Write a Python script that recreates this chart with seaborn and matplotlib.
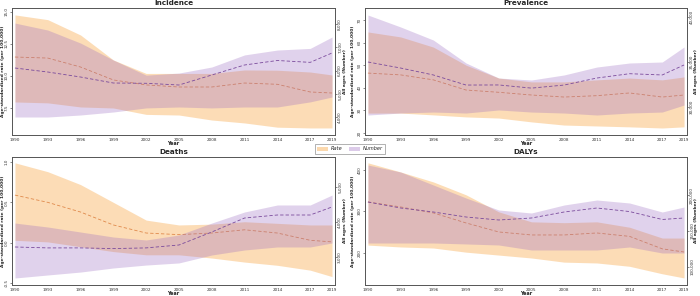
import numpy as np
import pandas as pd
import matplotlib
matplotlib.use("Agg")
import matplotlib.pyplot as plt
from matplotlib.patches import Patch
import seaborn as sns

# ---------------- data ----------------
years = [1990, 1993, 1996, 1999, 2002, 2005, 2008, 2011, 2014, 2017, 2019]

inc_rate    = [11.48, 11.40, 10.70, 9.69, 9.30, 9.14, 9.14, 9.45, 9.35, 8.75, 8.67]
inc_rate_lo = [7.97, 7.90, 7.58, 7.50, 7.00, 6.95, 6.56, 6.33, 6.00, 5.94, 5.94]
inc_rate_up = [14.77, 14.40, 13.20, 11.25, 10.20, 10.20, 10.20, 10.47, 10.45, 10.31, 10.08]
inc_num     = [6107, 5935, 5720, 5462, 5450, 5376, 5806, 6237, 6430, 6350, 6753]
inc_num_lo  = [4000, 4000, 4086, 4215, 4390, 4430, 4390, 4430, 4430, 4650, 4860]
inc_num_up  = [8040, 7740, 7180, 6450, 5800, 5890, 6150, 6670, 6880, 6950, 7440]

prev_rate    = [46.5, 45.7, 43.5, 39.0, 38.0, 36.8, 35.9, 36.5, 37.7, 35.9, 36.8]
prev_rate_lo = [28.8, 28.8, 28.0, 27.1, 26.6, 24.9, 23.5, 23.1, 22.7, 22.2, 22.7]
prev_rate_up = [64.7, 62.5, 58.0, 50.0, 44.3, 42.6, 42.6, 43.5, 44.3, 43.5, 44.8]
prev_num     = [35000, 34330, 33560, 32440, 32450, 32100, 32440, 33220, 33700, 33560, 34670]
prev_num_lo  = [29110, 29330, 29440, 29330, 29670, 29440, 29330, 29110, 29330, 29440, 30220]
prev_num_up  = [40220, 38890, 37440, 34890, 33220, 33000, 33560, 34440, 34890, 35000, 36670]

death_rate    = [0.59, 0.50, 0.38, 0.22, 0.12, 0.10, 0.12, 0.16, 0.12, 0.03, 0.01]
death_rate_lo = [0.03, 0.01, -0.05, -0.11, -0.15, -0.15, -0.19, -0.24, -0.28, -0.34, -0.42]
death_rate_up = [0.99, 0.88, 0.72, 0.50, 0.28, 0.22, 0.23, 0.26, 0.24, 0.22, 0.22]
death_num     = [3286, 3260, 3260, 3240, 3260, 3343, 3714, 4114, 4200, 4200, 4430]
death_num_lo  = [2400, 2486, 2570, 2686, 2770, 2830, 3057, 3200, 3286, 3286, 3400]
death_num_up  = [3970, 3857, 3714, 3571, 3486, 3629, 3970, 4286, 4486, 4486, 4770]

daly_rate    = [322.9, 310.8, 296.4, 272.3, 250.6, 243.4, 243.4, 248.2, 240.0, 210.0, 202.4]
daly_rate_lo = [219, 214.5, 212, 202, 195, 188, 178, 176, 168, 150, 140]
daly_rate_up = [417, 395, 371, 340, 299, 275, 273, 275, 262, 236, 236]
daly_num     = [190280, 181940, 176390, 169440, 165280, 168060, 176390, 181940, 177000, 166000, 168060]
daly_num_lo  = [133330, 133330, 133330, 132000, 130560, 123610, 123610, 123610, 127780, 119440, 119440]
daly_num_up  = [241670, 231940, 213890, 195830, 179170, 175000, 186110, 193060, 188900, 176390, 183330]

titles = ["Incidence", "Prevalence", "Deaths", "DALYs"]
series_labels = ["Rate", "Number"]
xtick_years = [1990, 1993, 1996, 1999, 2002, 2005, 2008, 2011, 2014, 2017, 2019]

# ---------------- style ----------------
sns.set_style("white")
plt.rcParams["font.family"] = ["DejaVu Sans"]

ORANGE_FILL = "#F8A94A"
PURPLE_FILL = "#9B6BC1"
ORANGE_LINE = "#E08A4C"
PURPLE_LINE = "#7A4A9C"
SPINE = "#555555"
TICK_FS = 3.0
LAB_FS = 3.2

fig = plt.figure(figsize=(7.0, 2.96), dpi=100)

W, H = 700.0, 296.0
def rect(l, r, t, b):
    return [l / W, 1 - b / H, (r - l) / W, (b - t) / H]

layout = [
    dict(px=(12, 335, 8, 135), ylim=(5.39, 15.31), yticks=[7.5, 10.0, 12.5, 15.0],
         yfmt="{:.1f}", ylim2=(3226, 8688), yticks2=[4000, 5000, 6000, 7000, 8000],
         lab_l=3, lab_r=345),
    dict(px=(365, 687, 8, 135), ylim=(19.1, 75.3), yticks=[20, 30, 40, 50, 60, 70],
         yfmt="{:.0f}", ylim2=(26890, 41000), yticks2=[30000, 35000, 40000],
         lab_l=353, lab_r=696),
    dict(px=(12, 335, 157, 285), ylim=(-0.524, 1.062), yticks=[-0.5, 0.0, 0.5, 1.0],
         yfmt="{:.1f}", ylim2=(2200, 5857), yticks2=[3000, 4000, 5000],
         lab_l=3, lab_r=345),
    dict(px=(365, 687, 157, 285), ylim=(123, 431), yticks=[200, 300, 400],
         yfmt="{:.0f}", ylim2=(75000, 252780), yticks2=[100000, 150000, 200000],
         lab_l=353, lab_r=696),
]

panel_data = [
    (inc_rate, inc_rate_lo, inc_rate_up, inc_num, inc_num_lo, inc_num_up),
    (prev_rate, prev_rate_lo, prev_rate_up, prev_num, prev_num_lo, prev_num_up),
    (death_rate, death_rate_lo, death_rate_up, death_num, death_num_lo, death_num_up),
    (daly_rate, daly_rate_lo, daly_rate_up, daly_num, daly_num_lo, daly_num_up),
]

def style_axis(ax):
    for s in ax.spines.values():
        s.set_color(SPINE)
        s.set_linewidth(0.6)
    ax.tick_params(axis="both", which="major", length=1.5, width=0.4, pad=0.8,
                   labelsize=TICK_FS, colors="#333333")

for title, lay, (r, rlo, rup, n, nlo, nup) in zip(titles, layout, panel_data):
    l, rr, t, b = lay["px"]
    aw, ah = rr - l, b - t
    ax = fig.add_axes(rect(l, rr, t, b))
    df = pd.DataFrame({"Year": years, "rate": r, "rlo": rlo, "rup": rup,
                       "num": n, "nlo": nlo, "nup": nup})
    ax.fill_between(df["Year"], df["rlo"], df["rup"], color=ORANGE_FILL, alpha=0.4, lw=0)
    sns.lineplot(data=df, x="Year", y="rate", ax=ax, color=ORANGE_LINE,
                 linestyle=(0, (4, 2.5)), linewidth=0.6)
    ax.set_ylim(*lay["ylim"])
    ax.set_yticks(lay["yticks"])
    ax.set_yticklabels([lay["yfmt"].format(v) for v in lay["yticks"]], rotation=90, va="center")
    ax.set_xlim(1989.73, 2019.27)
    ax.set_xticks(xtick_years)
    ax.set_xticklabels([str(y) for y in xtick_years])
    ax.set_ylabel("Age-standardized rate (per 100,000)", fontsize=LAB_FS,
                  fontweight="bold", va="center", ha="center")
    ax.yaxis.set_label_coords((lay["lab_l"] - l) / aw, 0.5)
    ax.set_xlabel("Year", fontsize=LAB_FS + 0.3, fontweight="bold", va="center")
    ax.xaxis.set_label_coords(0.5, -8.5 / ah)
    ax.set_title(title, fontsize=5.2, fontweight="bold", pad=2)
    style_axis(ax)

    ax2 = ax.twinx()
    ax2.fill_between(df["Year"], df["nlo"], df["nup"], color=PURPLE_FILL, alpha=0.3, lw=0)
    sns.lineplot(data=df, x="Year", y="num", ax=ax2, color=PURPLE_LINE,
                 linestyle=(0, (4, 2.5)), linewidth=0.6)
    ax2.set_ylim(*lay["ylim2"])
    ax2.set_yticks(lay["yticks2"])
    ax2.set_yticklabels([f"{v:,}" for v in lay["yticks2"]], rotation=90, va="center")
    ax2.set_ylabel("All ages (Number)", fontsize=LAB_FS, fontweight="bold",
                   va="center", ha="center")
    ax2.yaxis.set_label_coords((lay["lab_r"] - l) / aw, 0.5)
    style_axis(ax2)

handles = [Patch(facecolor=ORANGE_FILL, alpha=0.45, edgecolor="none"),
           Patch(facecolor=PURPLE_FILL, alpha=0.35, edgecolor="none")]
leg = fig.legend(handles, series_labels, loc="center", bbox_to_anchor=(0.5, 1 - 149 / H),
                 ncol=2, frameon=True, handlelength=2.2, handleheight=1.0,
                 columnspacing=1.2, handletextpad=0.6, borderpad=0.5,
                 prop={"style": "italic", "size": 3.6})
leg.get_frame().set_edgecolor("#777777")
leg.get_frame().set_linewidth(0.5)
leg.get_frame().set_boxstyle("square", pad=0)

fig.savefig("out.png", dpi=100)
